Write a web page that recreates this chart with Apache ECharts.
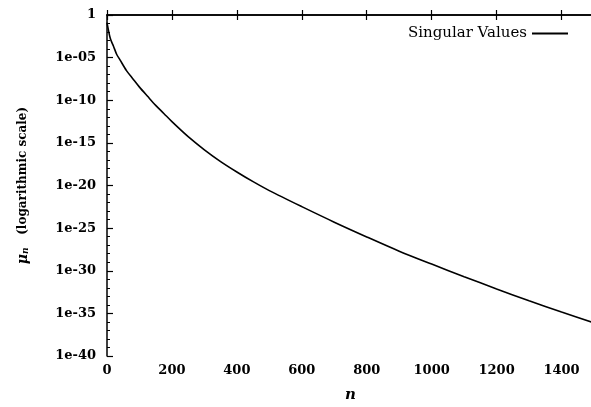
<!DOCTYPE html>
<html>
<head>
<meta charset="utf-8">
<script src="https://cdn.jsdelivr.net/npm/echarts@6/dist/echarts.min.js"></script>
<style>html,body{margin:0;padding:0;background:#fff;}#c{width:591px;height:407px;}</style>
</head>
<body>
<div id="c"></div>
<script>
// index n
const nValues = [0, 10, 20, 30, 40, 60, 80, 100, 125, 150, 175, 200, 250, 300, 350, 400, 450, 500, 600, 700, 800, 900, 1000, 1100, 1200, 1300, 1400, 1500];
// log10 of the singular values mu_n (plotted on a logarithmic scale)
const log10Mu = [-0.9, -2.73, -3.66, -4.63, -5.26, -6.52, -7.5, -8.46, -9.54, -10.6, -11.55, -12.51, -14.27, -15.81, -17.19, -18.41, -19.55, -20.6, -22.48, -24.3, -26.03, -27.7, -29.22, -30.7, -32.13, -33.52, -34.84, -36.12];
const seriesName = 'Singular Values';
const xTicks = [0, 200, 400, 600, 800, 1000, 1200, 1400];
const yTickValues = [0, -5, -10, -15, -20, -25, -30, -35, -40];
const yTickLabels = ['1', '1e-05', '1e-10', '1e-15', '1e-20', '1e-25', '1e-30', '1e-35', '1e-40'];

const serif = 'DejaVu Serif';
const chart = echarts.init(document.getElementById('c'), null, {renderer: 'canvas'});
const data = nValues.map((n, i) => [n, log10Mu[i]]);
const axisLine = {show: true, lineStyle: {color: '#000', width: 1.5}};

chart.setOption({
  animation: false,
  backgroundColor: '#fff',
  grid: {left: 107, top: 15, width: 487, height: 341, containLabel: false, outerBoundsMode: 'none'},
  legend: {
    data: [seriesName], right: 18, top: 21, align: 'right', itemWidth: 36, itemHeight: 2, itemGap: 10,
    icon: 'rect',
    itemStyle: {color: '#000'},
    textStyle: {fontFamily: serif, fontSize: 15, color: '#000'}
  },
  xAxis: [{
    type: 'value', min: 0, max: 1500, interval: 200,
    name: 'n', nameLocation: 'middle', nameGap: 32,
    nameTextStyle: {fontFamily: serif, fontStyle: 'italic', fontWeight: 'bold', fontSize: 15, color: '#000'},
    axisLine: axisLine,
    axisTick: {show: true, inside: true, length: 5, lineStyle: {color: '#000', width: 1.2}},
    axisLabel: {
      margin: 8, showMaxLabel: false, fontFamily: serif, fontWeight: 'bold', fontSize: 13, color: '#000',
      formatter: v => xTicks.indexOf(v) >= 0 ? String(v) : ''
    },
    splitLine: {show: false}
  }, {
    type: 'value', position: 'top', min: 0, max: 1500, interval: 200,
    axisLine: axisLine,
    axisTick: {show: true, inside: true, length: 5, lineStyle: {color: '#000', width: 1.2}},
    axisLabel: {show: false}, splitLine: {show: false}
  }],
  yAxis: [{
    type: 'value', min: -40, max: 0, interval: 5,
    name: '{mu|μ}{sub|n}   (logarithmic scale)', nameLocation: 'middle', nameGap: 77, nameRotate: 90,
    nameTextStyle: {
      fontFamily: serif, fontWeight: 'bold', fontSize: 12, color: '#000',
      rich: {
        mu: {fontFamily: serif, fontStyle: 'italic', fontWeight: 'bold', fontSize: 14, color: '#000'},
        sub: {fontFamily: serif, fontStyle: 'italic', fontWeight: 'bold', fontSize: 9, color: '#000', verticalAlign: 'bottom', padding: [4, 0, 0, 0]}
      }
    },
    axisLine: axisLine,
    axisTick: {show: true, inside: true, length: 6, lineStyle: {color: '#000', width: 1.2}},
    minorTick: {show: true, splitNumber: 5, length: 3, lineStyle: {color: '#000', width: 1}},
    axisLabel: {
      margin: 11, fontFamily: serif, fontWeight: 'bold', fontSize: 13, color: '#000',
      formatter: v => {
        const i = yTickValues.indexOf(Math.round(v));
        return i >= 0 ? yTickLabels[i] : '';
      }
    },
    splitLine: {show: false}
  }],
  series: [{
    name: seriesName, type: 'line', xAxisIndex: 0, yAxisIndex: 0,
    data: data, symbol: 'none', smooth: 0.3,
    lineStyle: {color: '#000', width: 1.6},
    itemStyle: {color: '#000'}
  }]
});
</script>
</body>
</html>
